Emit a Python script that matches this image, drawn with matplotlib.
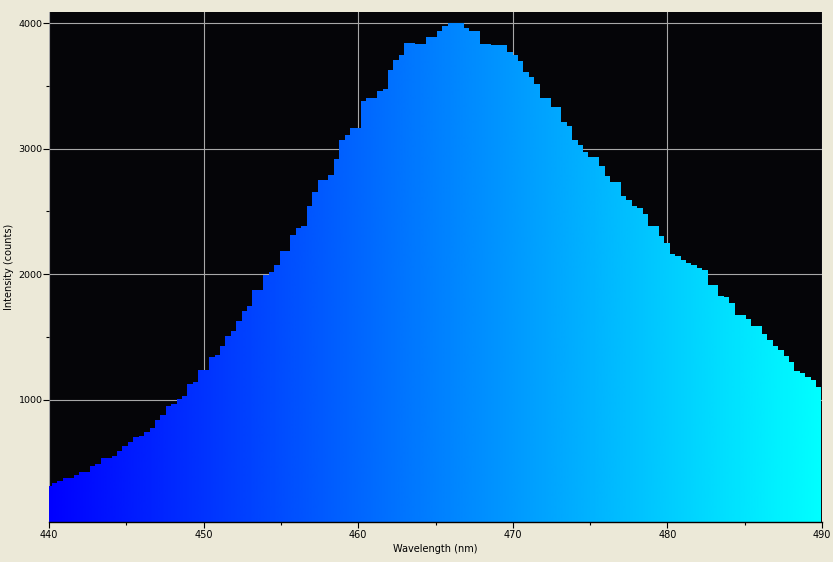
import numpy as np
import matplotlib
matplotlib.use('Agg')
import matplotlib.pyplot as plt
from matplotlib.colors import LinearSegmentedColormap
from matplotlib.ticker import MultipleLocator, FixedLocator

# spectrometer pixel grid (nm)
first_edge = 439.843
pixel_step = 0.3505

intensity = [
    312, 336, 351, 376, 376, 400, 424, 424, 471, 487,
    535, 535, 551, 591, 631, 663, 703, 711, 742, 774,
    838, 878, 950, 966, 1006, 1030, 1125, 1141, 1237, 1237,
    1340, 1356, 1428, 1508, 1548, 1627, 1707, 1747, 1874, 1874,
    1994, 2018, 2074, 2186, 2186, 2313, 2369, 2385, 2544, 2656,
    2752, 2752, 2792, 2919, 3070, 3111, 3167, 3167, 3382, 3405,
    3405, 3461, 3477, 3628, 3708, 3748, 3844, 3844, 3836, 3836,
    3892, 3892, 3940, 3980, 4004, 4004, 4004, 3964, 3940, 3940,
    3836, 3836, 3828, 3828, 3828, 3772, 3748, 3700, 3612, 3572,
    3517, 3405, 3405, 3333, 3333, 3214, 3182, 3071, 3031, 2975,
    2935, 2935, 2864, 2784, 2736, 2736, 2624, 2592, 2544, 2528,
    2480, 2385, 2385, 2305, 2249, 2161, 2145, 2114, 2090, 2074,
    2050, 2034, 1914, 1914, 1826, 1818, 1771, 1675, 1675, 1643,
    1587, 1587, 1523, 1476, 1428, 1396, 1348, 1301, 1229, 1213,
    1181, 1157, 1101,
]

edges = first_edge + pixel_step * np.arange(len(intensity) + 1)

x_min, x_max = 440, 490
y_min, y_max = 25, 4090
y_ticks = [1000, 2000, 3000, 4000]
y_minor = [1500, 2500, 3500]

plt.rcParams['font.family'] = 'DejaVu Sans'
plt.rcParams['font.size'] = 7

fig = plt.figure(figsize=(8.33, 5.62), dpi=100, facecolor='#ece9d8')
ax = fig.add_axes([49 / 833, 40 / 562, 773 / 833, 510 / 562])
ax.set_facecolor('#050508')

# step outline used as clip for the colour gradient
step = ax.stairs(intensity, edges, fill=True, baseline=0,
                 facecolor='none', edgecolor='none')
cmap = LinearSegmentedColormap.from_list('spec', ['#0000ff', '#00ffff'])
grad = np.linspace(0, 1, 512).reshape(1, -1)
im = ax.imshow(grad, cmap=cmap, aspect='auto', extent=(x_min, x_max, 0, y_max),
               origin='lower', interpolation='bilinear', zorder=2)
im.set_clip_path(step)

ax.set_xlim(x_min, x_max)
ax.set_ylim(y_min, y_max)

ax.xaxis.set_major_locator(MultipleLocator(10))
ax.xaxis.set_minor_locator(MultipleLocator(5))
ax.yaxis.set_major_locator(FixedLocator(y_ticks))
ax.yaxis.set_minor_locator(FixedLocator(y_minor))

ax.grid(True, which='major', color='#a8a8a8', linewidth=0.8)
ax.set_axisbelow(True)

ax.tick_params(which='major', direction='out', length=4, width=0.8, pad=2, colors='black')
ax.tick_params(which='minor', direction='out', length=2, width=0.8, colors='black')
ax.tick_params(axis='y', which='major', pad=0.5, labelsize=6.8)

for side in ['top', 'right', 'left']:
    ax.spines[side].set_visible(False)
ax.spines['bottom'].set_color('black')
ax.spines['bottom'].set_linewidth(1)

ax.set_xlabel('Wavelength (nm)', labelpad=3)
ax.set_ylabel('Intensity (counts)')
ax.yaxis.set_label_coords(-35 / 773, 0.5)

fig.savefig('out.png', dpi=100, facecolor=fig.get_facecolor())
